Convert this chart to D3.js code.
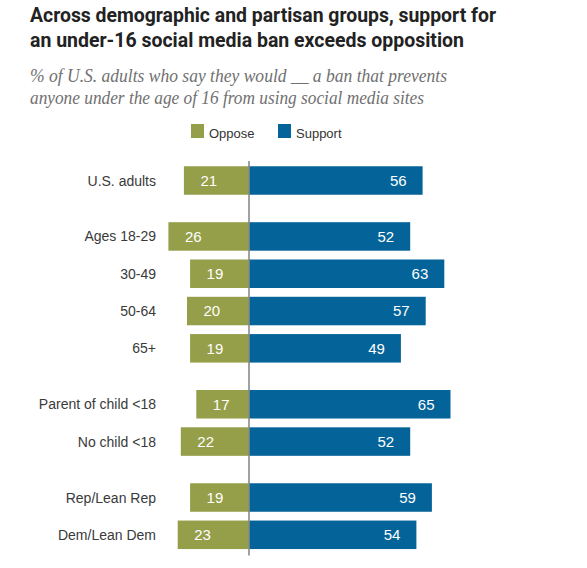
<!DOCTYPE html>
<html>
<head>
<meta charset="utf-8">
<script src="https://cdn.jsdelivr.net/npm/d3@7"></script>
<style>
  html, body { margin: 0; padding: 0; background: #fff; }
  svg { display: block; }
</style>
</head>
<body>
<svg id="chart" width="587" height="568"></svg>
<script>
const categories = ["U.S. adults", "Ages 18-29", "30-49", "50-64", "65+", "Parent of child <18", "No child <18", "Rep/Lean Rep", "Dem/Lean Dem"];
const groupIndex = [0, 1, 1, 1, 1, 2, 2, 3, 3];
const oppose = [21, 26, 19, 20, 19, 17, 22, 19, 23];
const support = [56, 52, 63, 57, 49, 65, 52, 59, 54];
const seriesNames = ["Oppose", "Support"];
const titleLines = ["Across demographic and partisan groups, support for", "an under-16 social media ban exceeds opposition"];
const subtitleLines = ["% of U.S. adults who say they would __ a ban that prevents", "anyone under the age of 16 from using social media sites"];

const colors = { Oppose: "#959e49", Support: "#04649a" };
const svg = d3.select("#chart");
svg.append("rect").attr("width", 587).attr("height", 568).attr("fill", "#fff");

function fit(sel, maxW) {
  sel.each(function() {
    const w = this.getComputedTextLength();
    if (w > maxW) d3.select(this).attr("textLength", maxW).attr("lengthAdjust", "spacingAndGlyphs");
  });
}

// Title
const title = svg.append("g");
titleLines.forEach((t, i) => {
  title.append("text").attr("x", 30).attr("y", 22 + i * 24.5)
    .attr("font-family", "Roboto, 'Liberation Sans', sans-serif").attr("font-weight", 700)
    .attr("font-size", 20).attr("fill", "#222").text(t)
    .call(fit, i === 0 ? 466 : 434);
});

// Subtitle
subtitleLines.forEach((t, i) => {
  svg.append("text").attr("x", 30).attr("y", 81.5 + i * 22)
    .attr("font-family", "'Liberation Serif', serif").attr("font-style", "italic")
    .attr("font-size", 18).attr("fill", "#707070").text(t)
    .call(fit, i === 0 ? 417 : 394);
});

// Scales
const x = d3.scaleLinear().domain([0, 10]).range([249, 280]);
const pos = categories.map((c, i) => i + 0.5 * groupIndex[i]);
const y = d3.scaleLinear().domain([0, 9.5]).range([180.5, 534.8]);
const barH = 28.5;

// Legend
const legendX = { Oppose: 191, Support: 278 };
seriesNames.forEach(s => {
  svg.append("rect").attr("x", legendX[s]).attr("y", 124).attr("width", 13).attr("height", 14).attr("fill", colors[s]);
  svg.append("text").attr("x", legendX[s] + 18).attr("y", 137.5)
    .attr("font-family", "'Liberation Sans', Arial, sans-serif").attr("font-size", 13)
    .attr("fill", "#333").text(s);
});

// Bars
const rows = categories.map((c, i) => ({ c, o: oppose[i], s: support[i], p: pos[i] }));
const g = svg.append("g");
g.selectAll("rect.opp").data(rows).join("rect").attr("class", "opp")
  .attr("x", d => x(-d.o)).attr("width", d => x(0) - x(-d.o))
  .attr("y", d => y(d.p) - barH / 2).attr("height", barH).attr("fill", colors.Oppose);
g.selectAll("rect.sup").data(rows).join("rect").attr("class", "sup")
  .attr("x", x(0)).attr("width", d => x(d.s) - x(0))
  .attr("y", d => y(d.p) - barH / 2).attr("height", barH).attr("fill", colors.Support);

// Value labels
const valFont = "'Liberation Sans', Arial, sans-serif";
g.selectAll("text.ov").data(rows).join("text").attr("class", "ov")
  .attr("x", d => x(-d.o) + 16.5).attr("y", d => y(d.p)).attr("dy", "0.36em")
  .attr("font-family", valFont).attr("font-size", 15).attr("fill", "#fff").text(d => d.o);
g.selectAll("text.sv").data(rows).join("text").attr("class", "sv")
  .attr("x", d => x(d.s) - 16).attr("y", d => y(d.p)).attr("dy", "0.36em").attr("text-anchor", "end")
  .attr("font-family", valFont).attr("font-size", 15).attr("fill", "#fff").text(d => d.s);

// Category labels
g.selectAll("text.cat").data(rows).join("text").attr("class", "cat")
  .attr("x", 156).attr("y", d => y(d.p)).attr("dy", "0.36em").attr("text-anchor", "end")
  .attr("font-family", valFont).attr("font-size", 14).attr("fill", "#3a3a3a").text(d => d.c);

// Center line
svg.append("line").attr("x1", x(0)).attr("x2", x(0)).attr("y1", 161).attr("y2", 555.5)
  .attr("stroke", "#8a8a8a").attr("stroke-width", 1.6);
</script>
</body>
</html>
